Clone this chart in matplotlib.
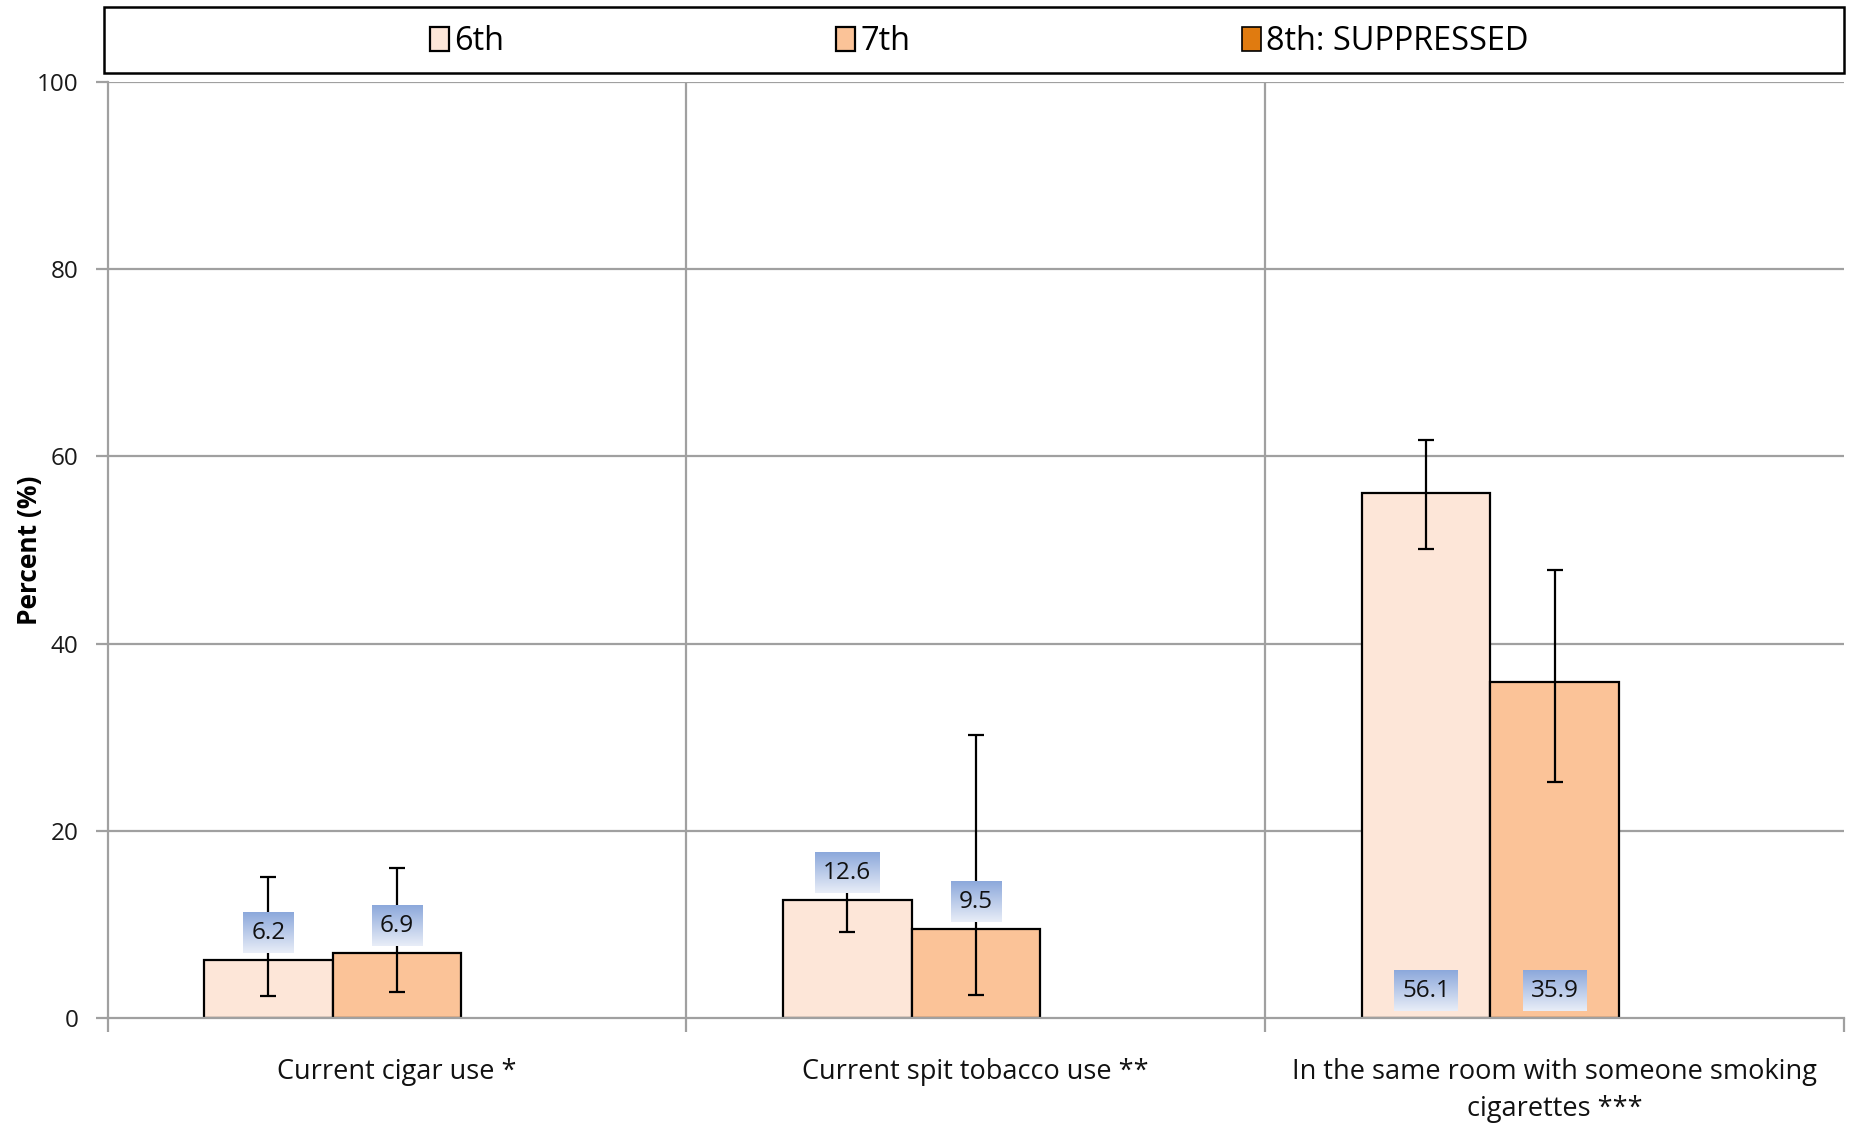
import numpy as np
import matplotlib
matplotlib.use("Agg")
import matplotlib.pyplot as plt
from matplotlib.patches import Rectangle

plt.rcParams['font.family'] = ['Open Sans', 'DejaVu Sans']

# data
categories = ["Current cigar use *", "Current spit tobacco use **",
              "In the same room with someone smoking\ncigarettes ***"]
series = ["6th", "7th", "8th: SUPPRESSED"]
colors = ["#FDE6D8", "#FBC398", "#E07B10"]
vals_6th = [6.2, 12.6, 56.1]
vals_7th = [6.9, 9.5, 35.9]
lo_6th = [2.4, 9.2, 50.1]
hi_6th = [15.1, 16.0, 61.8]
lo_7th = [2.8, 2.5, 25.2]
hi_7th = [16.0, 30.2, 47.9]
yticks = [0, 20, 40, 60, 80, 100]

fig = plt.figure(figsize=(18.51, 11.25), dpi=100)
ax = fig.add_axes([0.0581, 0.0951, 0.9381, 0.8320])

x = np.arange(len(categories))
w = 0.222
grid_c = "#a0a0a0"

# gridlines
for t in yticks[1:]:
    ax.axhline(t, color=grid_c, lw=1.6, zorder=0)
for b in [0.5, 1.5]:
    ax.axvline(b, color=grid_c, lw=1.6, zorder=0)

vals = [vals_6th, vals_7th]
los = [lo_6th, lo_7th]
his = [hi_6th, hi_7th]
for k in range(2):
    xs = x + (k - 1) * w
    v = np.array(vals[k])
    ax.bar(xs, v, width=w, color=colors[k], edgecolor="black", lw=1.6,
           zorder=2, label=series[k])
    yerr = [v - np.array(los[k]), np.array(his[k]) - v]
    ax.errorbar(xs, v, yerr=yerr, fmt="none", ecolor="black", elinewidth=1.6,
                capsize=6, capthick=1.6, zorder=3)
# suppressed series, legend only
ax.bar([0], [0], width=0, color=colors[2], edgecolor="black", lw=1.2, label=series[2])

ax.set_xlim(-0.5, 2.5)
ax.set_ylim(0, 100)

# value labels
labels = []
for k in range(2):
    xs = x + (k - 1) * w
    for xi, v in zip(xs, vals[k]):
        ly = v + 2.9 if v < 20 else 2.9
        t = ax.text(xi, ly, f"{v:.1f}", ha="center", va="center", fontsize=17.5,
                    color="#111111", zorder=6,
                    bbox=dict(boxstyle="square,pad=0.33", fc="none", ec="none"))
        labels.append(t)

ax.set_yticks(yticks)
ax.set_yticklabels([str(t) for t in yticks], fontsize=17.5, color="#1a1a1a")
ax.set_xticks([-0.5, 0.5, 1.5, 2.5])
ax.set_xticklabels([])
ax.set_xticks(x, minor=True)
ax.set_xticklabels(categories, minor=True, fontsize=19.5, color="#111111",
                   linespacing=1.4)
ax.tick_params(axis="x", which="minor", length=0, pad=29)
ax.tick_params(axis="x", which="major", length=10, width=1.6, color=grid_c, direction="out")
ax.tick_params(axis="y", length=9, width=1.6, color=grid_c, direction="out", pad=12)
ax.set_ylabel("Percent (%)", fontsize=19, fontweight="bold")
ax.yaxis.set_label_coords(-0.037, 0.5)

for s in ["top", "right"]:
    ax.spines[s].set_visible(False)
for s in ["left", "bottom"]:
    ax.spines[s].set_color(grid_c)
    ax.spines[s].set_linewidth(1.6)

# legend with a frame box
fig.patches.append(Rectangle((0.0562, 0.935), 0.94, 0.0587, transform=fig.transFigure,
                             fill=False, ec="black", lw=1.8, zorder=5))
fig.legend(loc="center", bbox_to_anchor=(0.529, 0.963), ncol=3, frameon=False,
           fontsize=23.4, handlelength=0.6, handleheight=0.75, handletextpad=0.15,
           columnspacing=10.2)

# gradient fill behind value labels
fig.canvas.draw()
rend = fig.canvas.get_renderer()
grad = np.linspace(0, 1, 64).reshape(-1, 1, 1)
top = np.array([0.55, 0.66, 0.86])
bot = np.array([0.91, 0.93, 0.97])
img = top * (1 - grad) + bot * grad
inv = ax.transData.inverted()
for t in labels:
    bb = t.get_bbox_patch().get_window_extent(rend)
    (x0, y0), (x1, y1) = inv.transform([[bb.x0, bb.y0], [bb.x1, bb.y1]])
    ax.imshow(img, extent=[x0, x1, y0, y1], aspect="auto", zorder=5, origin="upper")
ax.set_xlim(-0.5, 2.5)
ax.set_ylim(0, 100)

fig.savefig("out.png", dpi=100)
